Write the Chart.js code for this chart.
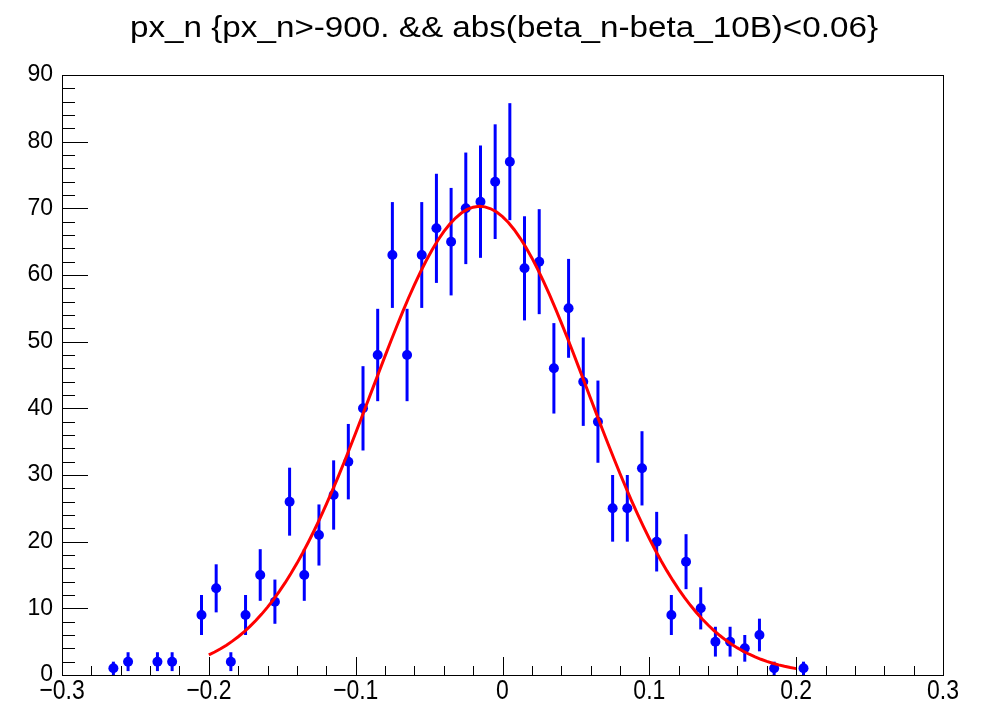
<!DOCTYPE html>
<html>
<head>
<meta charset="utf-8">
<title>px_n</title>
<script src="https://cdn.jsdelivr.net/npm/chart.js@4.4.1/dist/chart.umd.min.js"></script>
<style>
	html, body { margin: 0; padding: 0; background: #fff; }
	#wrap { width: 985px; height: 703px; }
</style>
</head>
<body>
<div id="wrap"><canvas id="chartPxN" width="985" height="703"></canvas></div>
<script>
'use strict'

// histogram bins (width 0.01) and entries per bin
const binCenters = [
	-0.265, -0.255, -0.245, -0.235, -0.225, -0.215, -0.205, -0.195, -0.185, -0.175,
	-0.165, -0.155, -0.145, -0.135, -0.125, -0.115, -0.105, -0.095, -0.085, -0.075,
	-0.065, -0.055, -0.045, -0.035, -0.025, -0.015, -0.005, 0.005, 0.015, 0.025,
	0.035, 0.045, 0.055, 0.065, 0.075, 0.085, 0.095, 0.105, 0.115, 0.125,
	0.135, 0.145, 0.155, 0.165, 0.175, 0.185, 0.195, 0.205,
];
const binCounts = [
	1, 2, 0, 2, 2, 0, 9, 13, 2, 9,
	15, 11, 26, 15, 21, 27, 32, 40, 48, 63,
	48, 63, 67, 65, 70, 71, 74, 77, 61, 62,
	46, 55, 44, 38, 25, 25, 31, 20, 9, 17,
	10, 5, 5, 4, 6, 1, 0, 1,
];

// gaussian fit result and its drawing range
const fitConstant = 70.3;
const fitMean = -0.0155;
const fitSigma = 0.0735;
const fitRange = [-0.2, 0.2];

// axis ranges and tick labels
const xRange = [-0.3, 0.3];
const yRange = [0, 90];
const xTickValues = [-0.3, -0.2, -0.1, 0, 0.1, 0.2, 0.3];
const xTickLabels = ['\u22120.3', '\u22120.2', '\u22120.1', '0', '0.1', '0.2', '0.3'];

const titleText = 'px_n {px_n>-900. && abs(beta_n-beta_10B)<0.06}';
const fontFamily = '"Liberation Sans", Arial, Helvetica, sans-serif';

const markerColor = '#0000ff';
const fitColor = '#ff0000';

// points with poisson errors, empty bins are not drawn
const points = [];
binCenters.forEach((x, i) => {
	if (binCounts[i] > 0) {
		points.push({ x: x, y: binCounts[i], err: Math.sqrt(binCounts[i]) });
	}
});

const fitPoints = [];
const nFit = 100;
for (let i = 0; i <= nFit; i++) {
	const x = fitRange[0] + (fitRange[1] - fitRange[0]) * i / nFit;
	const d = (x - fitMean) / fitSigma;
	fitPoints.push({ x: x, y: fitConstant * Math.exp(-0.5 * d * d) });
}

// vertical error bars, drawn before the markers
const errorBars = {
	id: 'errorBars',
	beforeDatasetsDraw(chart) {
		const { ctx, scales: { x, y } } = chart;
		ctx.save();
		ctx.strokeStyle = markerColor;
		ctx.lineWidth = 3;
		points.forEach((p) => {
			const px = x.getPixelForValue(p.x);
			ctx.beginPath();
			ctx.moveTo(px, y.getPixelForValue(p.y - p.err));
			ctx.lineTo(px, y.getPixelForValue(Math.min(p.y + p.err, yRange[1])));
			ctx.stroke();
		});
		ctx.restore();
	},
};

// frame box with inward ticks, x labels and the title
const frameTicks = {
	id: 'frameTicks',
	afterDraw(chart) {
		const { ctx, chartArea: { left, right, top, bottom }, scales: { x, y } } = chart;
		ctx.save();
		ctx.strokeStyle = '#000';
		ctx.lineWidth = 1;
		ctx.strokeRect(left + 0.5, top + 0.5, right - left, bottom - top);

		ctx.beginPath();
		for (let v = yRange[0]; v <= yRange[1] + 1e-9; v += 2) {
			const py = Math.round(y.getPixelForValue(v)) + 0.5;
			const len = (Math.round(v) % 10 === 0) ? 26 : 13;
			ctx.moveTo(left, py);
			ctx.lineTo(left + len, py);
		}
		for (let k = 0; k <= 30; k++) {
			const v = xRange[0] + k * 0.02;
			const px = Math.round(x.getPixelForValue(v)) + 0.5;
			const len = (k % 5 === 0) ? 18 : 9;
			ctx.moveTo(px, bottom);
			ctx.lineTo(px, bottom - len);
		}
		ctx.stroke();

		ctx.fillStyle = '#000';
		ctx.font = '23px ' + fontFamily;
		ctx.textAlign = 'center';
		ctx.textBaseline = 'alphabetic';
		xTickValues.forEach((v, i) => {
			ctx.save();
			ctx.translate(x.getPixelForValue(v), 699);
			ctx.scale(1, 1.2);
			ctx.fillText(xTickLabels[i], 0, 0);
			ctx.restore();
		});

		// title stretched to the width of the original header
		ctx.font = '29px ' + fontFamily;
		const w = ctx.measureText(titleText).width;
		ctx.textAlign = 'left';
		ctx.translate(130, 37);
		ctx.scale(748 / w, 1);
		ctx.fillText(titleText, 0, 0);
		ctx.restore();
	},
};

new Chart(document.getElementById('chartPxN'), {
	type: 'scatter',
	data: {
		datasets: [
			{
				data: points,
				backgroundColor: markerColor,
				borderColor: markerColor,
				pointRadius: 5,
				pointBorderWidth: 0,
				order: 2,
			},
			{
				data: fitPoints,
				showLine: true,
				borderColor: fitColor,
				borderWidth: 3,
				pointRadius: 0,
				tension: 0,
				order: 1,
			},
		],
	},
	options: {
		responsive: false,
		animation: false,
		events: [],
		layout: {
			padding: { left: 0, right: 42, top: 75, bottom: 0 },
		},
		plugins: {
			legend: { display: false },
			tooltip: { enabled: false },
		},
		scales: {
			x: {
				type: 'linear',
				min: xRange[0],
				max: xRange[1],
				afterFit(scale) { scale.height = 28; },
				grid: { display: false, drawTicks: false },
				border: { display: false },
				ticks: { display: false, stepSize: 0.1 },
			},
			y: {
				min: yRange[0],
				max: yRange[1],
				afterFit(scale) { scale.width = 62; },
				grid: { display: false, drawTicks: false },
				border: { display: false },
				ticks: {
					stepSize: 10,
					padding: 9,
					color: '#000',
					font: { family: fontFamily, size: 23 },
				},
			},
		},
	},
	plugins: [errorBars, frameTicks],
});
</script>
</body>
</html>
